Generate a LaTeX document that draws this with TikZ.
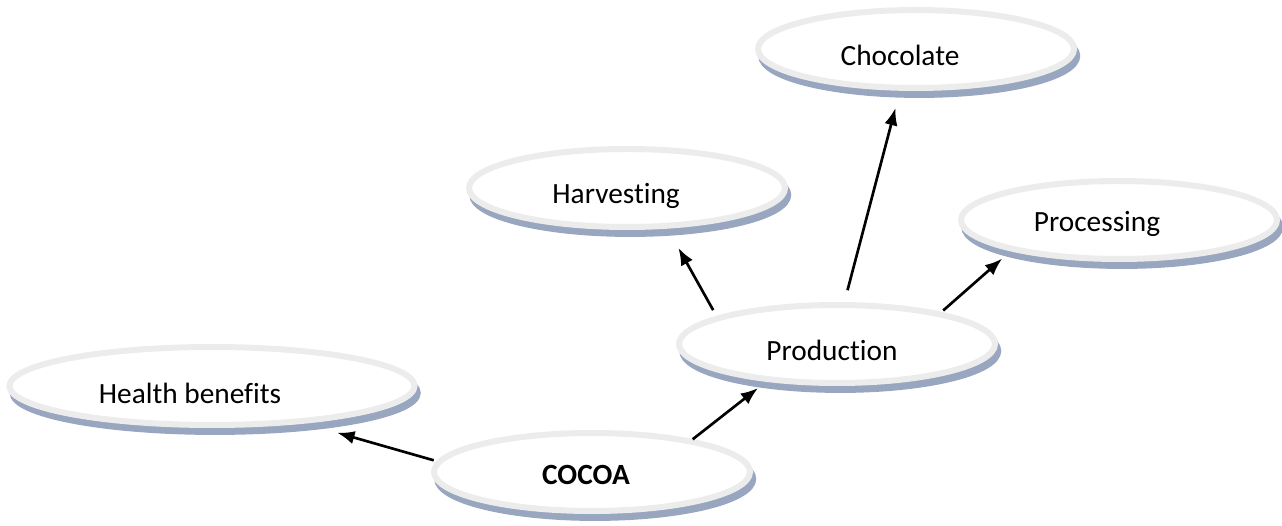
\documentclass[tikz,border=0pt]{standalone}
\usepackage{fontspec}
\setmainfont[Ligatures=NoCommon]{Carlito}
\usetikzlibrary{shapes.geometric,shadows,arrows.meta}
\definecolor{rimgray}{RGB}{236,236,236}
\definecolor{shadeblue}{RGB}{152,166,192}
\tikzstyle{bubble} = [ellipse, minimum width=118.5pt, minimum height=29.25pt, draw=rimgray, line width=2.25pt, fill=white, outer sep=1.1pt, drop shadow={shadow xshift=1.2pt, shadow yshift=-2.6pt, fill=shadeblue, draw=shadeblue, opacity=1}]
\tikzstyle{wide} = [minimum width=151.9pt]
\tikzstyle{lbl} = [font=\fontsize{11pt}{13pt}\selectfont, inner sep=0pt]
\tikzstyle{arrow} = [line width=1pt, -{Latex[length=6.5pt,width=5pt]}]

\begin{document}
\begin{tikzpicture}[x=0.375pt, y=-0.375pt]
\useasboundingbox (0,0) rectangle (1282,526);
\node (cocoa) [bubble, label={[lbl, xshift=-2.25pt, yshift=-1.1pt]center:\textbf{COCOA}}] at (592,472) {};
\node (health) [bubble, wide, label={[lbl, xshift=-8.25pt, yshift=-2.6pt]center:Health benefits}] at (212,386) {};
\node (prod) [bubble, label={[lbl, xshift=-1.9pt, yshift=-2.25pt]center:Production}] at (837,344) {};
\node (harv) [bubble, label={[lbl, xshift=-4.1pt, yshift=-3pt]center:Harvesting}] at (627,188) {};
\node (choc) [bubble, label={[lbl, xshift=-6pt, yshift=-2.25pt]center:Chocolate}] at (916,49) {};
\node (proc) [bubble, label={[lbl, xshift=-8.25pt, yshift=-1.5pt]center:Processing}] at (1119,220) {};
\draw [arrow, shorten <=1.1pt, shorten >=12.7pt] (cocoa.176) -- (health.-22.6);
\draw [arrow, shorten >=3.9pt] (cocoa.18) -- (prod.-152.4);
\draw [arrow, shorten <=2.6pt, shorten >=8.3pt] (prod.167) -- (harv.-45.4);
\draw [arrow, shorten <=4.6pt, shorten >=6.7pt] (prod.80.8) -- (choc.-111.5);
\draw [arrow, shorten <=0.9pt, shorten >=4.3pt] (prod.17.4) -- (proc.-164.6);
\end{tikzpicture}
\end{document}
